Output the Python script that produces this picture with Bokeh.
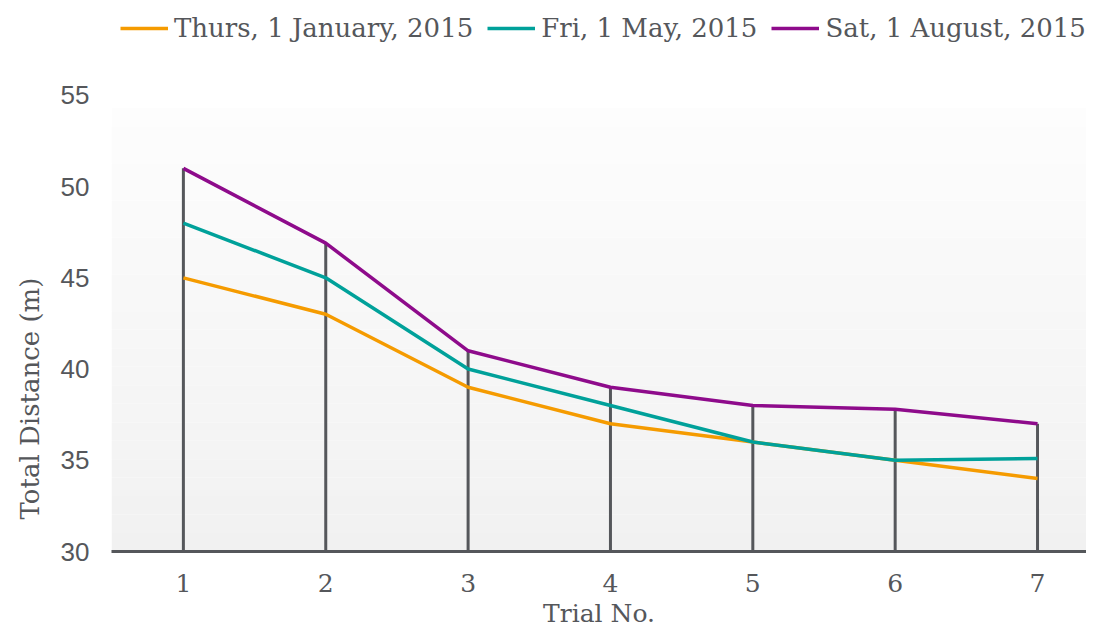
from bokeh.plotting import figure
from bokeh.models import Legend, LegendItem, FixedTicker, BoxAnnotation, Range1d, Title
from bokeh.embed import file_html
from bokeh.resources import INLINE

trials = [1, 2, 3, 4, 5, 6, 7]
thurs_jan = [45, 43, 39, 37, 36, 35, 34]
fri_may = [48, 45, 40, 38, 36, 35, 35.1]
sat_aug = [51, 46.9, 41, 39, 38, 37.8, 37]
series_names = ["Thurs, 1 January, 2015", "Fri, 1 May, 2015", "Sat, 1 August, 2015"]
series_colors = ["#F59B00", "#00A19A", "#8E0B8B"]
y_ticks = [30, 35, 40, 45, 50, 55]

AXIS_COLOR = "#55575b"
SERIF = "DejaVu Serif"

# frame spans from the canvas top to the x axis; extra headroom above 55 holds the legend
p = figure(width=1086, height=630, output_backend="svg", toolbar_location=None,
           x_range=Range1d(0.495, 7.344), y_range=Range1d(30, 60.2),
           min_border_left=110, min_border_right=0, min_border_top=0, min_border_bottom=78)
p.outline_line_color = None
p.xgrid.visible = False
p.ygrid.visible = False
p.background_fill_color = "white"
p.border_fill_color = "white"

# subtle vertical gradient in the plotting area (30..55)
n_bands = 24
lo_c = (0xf1, 0xf1, 0xf1)
hi_c = (0xfd, 0xfd, 0xfd)
for i in range(n_bands):
    t = i / (n_bands - 1)
    c = tuple(int(round(lo_c[k] + (hi_c[k] - lo_c[k]) * t)) for k in range(3))
    b = y_ticks[0] + (y_ticks[-1] - y_ticks[0] - 0.7) * i / n_bands
    tp = y_ticks[0] + (y_ticks[-1] - y_ticks[0] - 0.7) * (i + 1) / n_bands
    p.add_layout(BoxAnnotation(bottom=b, top=tp, fill_color="#%02x%02x%02x" % c,
                               fill_alpha=1, line_color=None, level="underlay"))

# drop lines
tops = [max(a, b, c) for a, b, c in zip(thurs_jan, fri_may, sat_aug)]
p.segment(x0=trials, y0=[y_ticks[0]] * len(trials), x1=trials, y1=tops,
          line_color=AXIS_COLOR, line_width=3)

items = []
for name, vals, col in zip(series_names, [thurs_jan, fri_may, sat_aug], series_colors):
    r = p.line(trials, vals, line_color=col, line_width=3.5)
    items.append(LegendItem(label=name, renderers=[r]))

legend = Legend(items=items, orientation="horizontal", location=(9, 508),
                label_text_font=SERIF, label_text_font_size="26px",
                label_text_color="#55575b", glyph_width=48, glyph_height=22,
                spacing=14, label_standoff=6, border_line_color=None,
                background_fill_alpha=0, padding=0, margin=0)
p.add_layout(legend, "center")

p.xaxis.ticker = FixedTicker(ticks=trials)
p.yaxis.ticker = FixedTicker(ticks=y_ticks)
p.xaxis.axis_line_color = AXIS_COLOR
p.xaxis.axis_line_width = 3
p.xaxis.major_tick_line_color = None
p.xaxis.minor_tick_line_color = None
p.xaxis.major_label_text_font = SERIF
p.xaxis.major_label_text_font_size = "25px"
p.xaxis.major_label_text_color = AXIS_COLOR
p.xaxis.major_label_standoff = 16
p.xaxis.axis_label = "Trial No."
p.xaxis.axis_label_text_font = SERIF
p.xaxis.axis_label_text_font_size = "25px"
p.xaxis.axis_label_text_font_style = "normal"
p.xaxis.axis_label_text_color = AXIS_COLOR
p.xaxis.axis_label_standoff = 4

p.yaxis.axis_line_color = None
p.yaxis.major_tick_line_color = None
p.yaxis.minor_tick_line_color = None
p.yaxis.major_label_text_font = "Liberation Sans"
p.yaxis.major_label_text_font_size = "26px"
p.yaxis.major_label_text_color = AXIS_COLOR
p.yaxis.major_label_standoff = 16

ylabel = Title(text="Total Distance (m)", align="left", offset=32, standoff=25,
               text_font=SERIF, text_font_size="26px", text_font_style="normal",
               text_color=AXIS_COLOR)
p.add_layout(ylabel, "left")

open("out.html", "w").write(file_html(p, INLINE))
